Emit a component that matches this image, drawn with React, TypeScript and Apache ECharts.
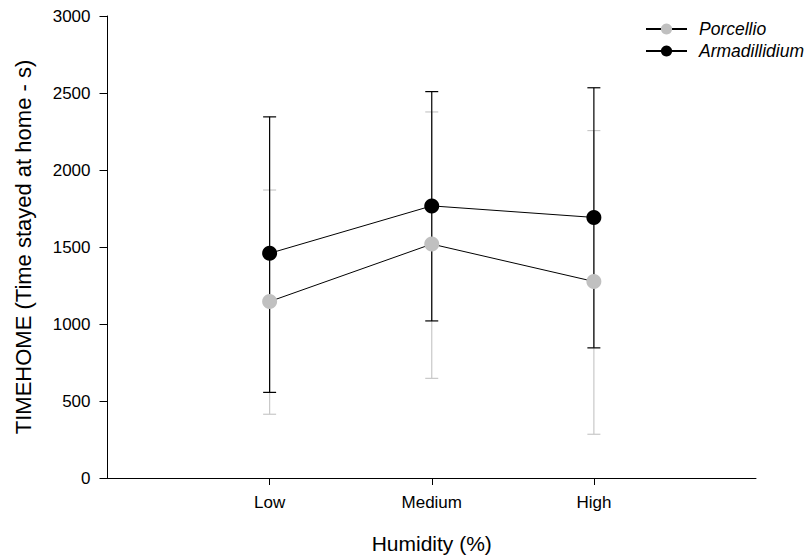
import React, { useEffect, useRef } from "react";
import * as echarts from "echarts";

const categories = ["Low", "Medium", "High"];
const porcellioMean = [1146, 1519, 1276];
const porcellioLow = [414, 647, 284];
const porcellioHigh = [1870, 2377, 2256];
const armadillidiumMean = [1459, 1767, 1692];
const armadillidiumLow = [556, 1020, 845];
const armadillidiumHigh = [2345, 2509, 2534];
const yTicks = { min: 0, max: 3000, interval: 500 };

const FONT = "'Liberation Sans', Arial, Helvetica, sans-serif";

function errorSeries(name: string, lo: number[], hi: number[], color: string) {
  return {
    type: "custom",
    name: name + "-err",
    silent: true,
    encode: { x: 0, y: [1, 2] },
    data: categories.map((c, i) => [i + 1, lo[i], hi[i]]),
    renderItem: (params: any, api: any) => {
      const x = api.value(0);
      const pLo = api.coord([x, api.value(1)]);
      const pHi = api.coord([x, api.value(2)]);
      const hw = 6.5;
      const style = { stroke: color, lineWidth: 1.2 };
      return {
        type: "group",
        children: [
          { type: "line", shape: { x1: pLo[0], y1: pLo[1], x2: pHi[0], y2: pHi[1] }, style },
          { type: "line", shape: { x1: pLo[0] - hw, y1: pLo[1], x2: pLo[0] + hw, y2: pLo[1] }, style },
          { type: "line", shape: { x1: pHi[0] - hw, y1: pHi[1], x2: pHi[0] + hw, y2: pHi[1] }, style },
        ],
      };
    },
  };
}

export default function App() {
  const ref = useRef<HTMLDivElement>(null);
  useEffect(() => {
    document.body.style.margin = "0";
    const chart = echarts.init(ref.current!, null, { renderer: "svg" });
    const axisData = ["", ...categories, ""];
    chart.setOption({
      animation: false,
      backgroundColor: "#ffffff",
      textStyle: { fontFamily: FONT, color: "#000" },
      grid: { left: 107.5, right: 54, top: 16, bottom: 79, containLabel: false },
      legend: {
        data: ["Porcellio", "Armadillidium"],
        orient: "vertical",
        left: 645,
        top: 20,
        padding: 0,
        itemWidth: 41,
        itemHeight: 14,
        itemGap: 4,
        textStyle: { fontFamily: FONT, fontSize: 17.5, fontStyle: "italic", color: "#000", padding: [0, 0, 0, 7] },
      },
      xAxis: {
        type: "category",
        data: axisData,
        boundaryGap: false,
        name: "Humidity (%)",
        nameLocation: "middle",
        nameGap: 55,
        nameTextStyle: { fontFamily: FONT, fontSize: 21, color: "#000" },
        axisLine: { show: true, lineStyle: { color: "#000", width: 1 } },
        axisTick: { show: true, length: 7, interval: (i: number) => i >= 1 && i <= 3, lineStyle: { color: "#000" } },
        axisLabel: { interval: 0, margin: 16, fontSize: 17, color: "#000", fontFamily: FONT },
        splitLine: { show: false },
      },
      yAxis: {
        type: "value",
        min: yTicks.min,
        max: yTicks.max,
        interval: yTicks.interval,
        name: "TIMEHOME (Time stayed at home - s)",
        nameLocation: "middle",
        nameGap: 73,
        nameTextStyle: { fontFamily: FONT, fontSize: 22, color: "#000" },
        axisLine: { show: true, lineStyle: { color: "#000", width: 1 } },
        axisTick: { show: true, length: 8, lineStyle: { color: "#000" } },
        axisLabel: { margin: 17, fontSize: 17, color: "#000", fontFamily: FONT, formatter: (v: number) => String(v) },
        splitLine: { show: false },
      },
      series: [
        errorSeries("Porcellio", porcellioLow, porcellioHigh, "#c8c8c8"),
        {
          type: "line",
          name: "Porcellio",
          data: categories.map((c, i) => [i + 1, porcellioMean[i]]),
          symbol: "circle",
          symbolSize: 15,
          lineStyle: { color: "#000", width: 1 },
          itemStyle: { color: "#c0c0c0" },
        },
        errorSeries("Armadillidium", armadillidiumLow, armadillidiumHigh, "#000"),
        {
          type: "line",
          name: "Armadillidium",
          data: categories.map((c, i) => [i + 1, armadillidiumMean[i]]),
          symbol: "circle",
          symbolSize: 15,
          lineStyle: { color: "#000", width: 1 },
          itemStyle: { color: "#000" },
        },
      ],
    });
    return () => chart.dispose();
  }, []);
  return <div ref={ref} style={{ width: 810, height: 559 }} />;
}
